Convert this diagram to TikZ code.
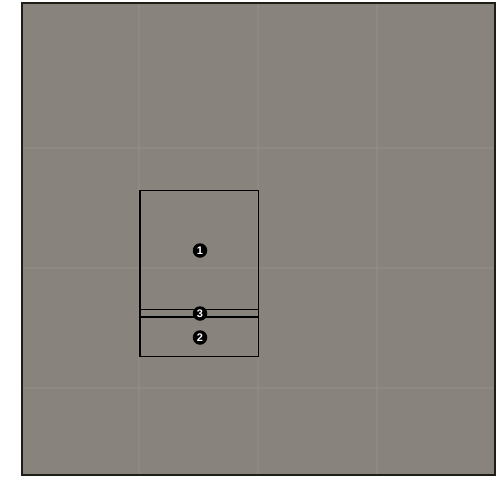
\documentclass[tikz,border=0pt]{standalone}
\usepackage{fontspec}
\setsansfont{Liberation Sans}
\definecolor{slab}{RGB}{136,132,125}
\definecolor{seam}{RGB}{150,147,140}
\definecolor{edge}{RGB}{30,30,24}
\tikzset{
  badge/.style={circle, fill=black, text=white, inner sep=0pt, minimum size=14.5pt,
    font=\sffamily\bfseries\fontsize{11}{11}\selectfont},
  outline/.style={draw=black, line width=1.3pt},
  tileseam/.style={draw=seam, line width=1.4pt, opacity=0.45}
}
\begin{document}
\begin{tikzpicture}[x=1pt,y=-1pt]
  \useasboundingbox (0,0) rectangle (504,477);
  \fill[white] (0,0) rectangle (504,477);
  % slab
  \fill[slab] (22,3) rectangle (495,475);
  % tile seams
  \foreach \x in {139,258,377} \draw[tileseam] (\x,4) -- (\x,474);
  \foreach \y in {148,268,388} \draw[tileseam] (23,\y) -- (494,\y);
  \draw[edge, line width=2.2pt] (22,3) rectangle (495,475);
  % inner frame
  \draw[outline] (140,190.5) rectangle (258.5,356.5);
  \coordinate (l1w) at (140,309.5);
  \coordinate (l1e) at (258.5,309.5);
  \coordinate (l2w) at (140,317);
  \coordinate (l2e) at (258.5,317);
  \draw[outline] (l1w) -- (l1e);
  \draw[outline] (l2w) -- (l2e);
  % badges
  \node[badge] (b1) at (200,250.5) {1};
  \node[badge] (b3) at (200,313.5) {3};
  \node[badge] (b2) at (200,337.5) {2};
\end{tikzpicture}
\end{document}
